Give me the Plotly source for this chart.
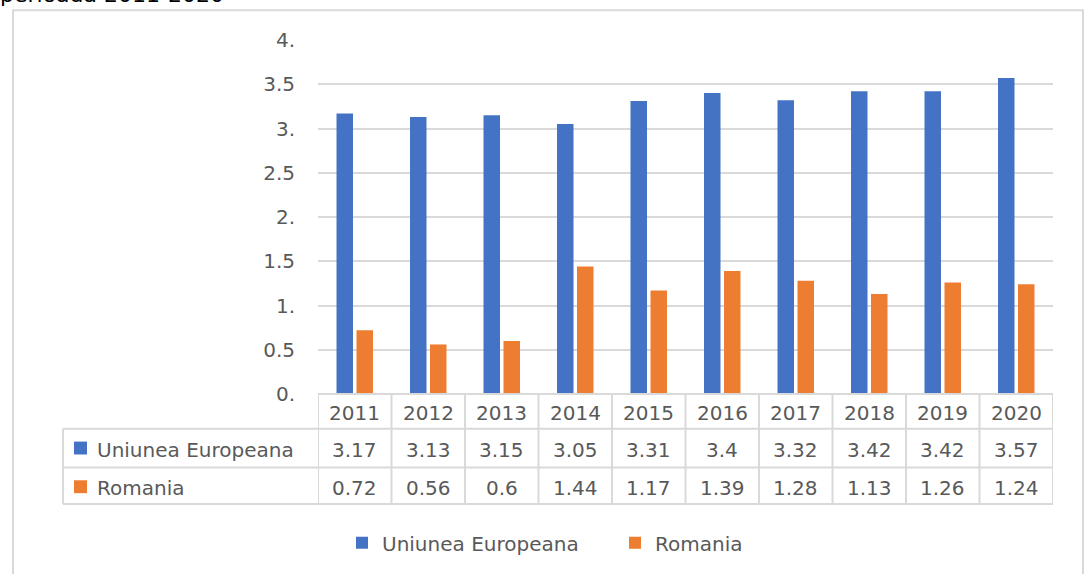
import plotly.graph_objects as go

years = ["2011", "2012", "2013", "2014", "2015", "2016", "2017", "2018", "2019", "2020"]
eu_values = [3.17, 3.13, 3.15, 3.05, 3.31, 3.4, 3.32, 3.42, 3.42, 3.57]
ro_values = [0.72, 0.56, 0.6, 1.44, 1.17, 1.39, 1.28, 1.13, 1.26, 1.24]
series_names = ["Uniunea Europeana", "Romania"]
series_colors = ["#4472C4", "#ED7D31"]
y_tickvals = [0, 0.5, 1, 1.5, 2, 2.5, 3, 3.5, 4]
y_ticktext = ["0.", "0.5", "1.", "1.5", "2.", "2.5", "3.", "3.5", "4."]
title_text = "perioada 2011-2020"

W, H = 1090, 574
L, R, T, B = 318, 1053, 40, 397
PW, PH = R - L, B - T
FONT = "DejaVu Sans"
GRAY = "#595959"
LINE = "#d9d9d9"


def px(x):
    return (x - L) / PW


def py(y):
    return (B - y) / PH


fig = go.Figure()
for name, vals, col in zip(series_names, [eu_values, ro_values], series_colors):
    fig.add_trace(go.Bar(x=years, y=vals, name=name, marker=dict(color=col, line=dict(width=0))))

shapes = []
annotations = []

# chart border
shapes.append(dict(type="rect", xref="paper", yref="paper", x0=px(13), x1=px(1083), y0=py(10), y1=py(590),
                   line=dict(color=LINE, width=2), fillcolor="rgba(0,0,0,0)", layer="below"))

# data table lines
row_lines = [432, 471, 508]
shapes.append(dict(type="line", xref="paper", yref="paper", x0=0, x1=1, y0=py(397), y1=py(397),
                   line=dict(color=LINE, width=2)))
for ry in row_lines:
    shapes.append(dict(type="line", xref="paper", yref="paper", x0=px(63), x1=1, y0=py(ry), y1=py(ry),
                       line=dict(color=LINE, width=2)))
for k in range(len(years) + 1):
    shapes.append(dict(type="line", xref="x", yref="paper", x0=k - 0.5, x1=k - 0.5, y0=py(397), y1=py(508),
                       line=dict(color=LINE, width=2)))
shapes.append(dict(type="line", xref="paper", yref="paper", x0=px(63), x1=px(63), y0=py(432), y1=py(508),
                   line=dict(color=LINE, width=2)))

# header row
for i, yr in enumerate(years):
    annotations.append(dict(x=i, y=py(416), xref="x", yref="paper", text=yr, showarrow=False,
                            font=dict(family=FONT, size=20, color=GRAY), xanchor="center", yanchor="middle"))
# value rows
row_centers = [453, 492]
for vals, name, col, rc in zip([eu_values, ro_values], series_names, series_colors, row_centers):
    for i, v in enumerate(vals):
        annotations.append(dict(x=i, y=py(rc), xref="x", yref="paper", text=str(v), showarrow=False,
                                font=dict(family=FONT, size=20, color=GRAY), xanchor="center", yanchor="middle"))
    shapes.append(dict(type="rect", xref="paper", yref="paper", x0=px(74), x1=px(87),
                       y0=py(rc - 1.5 - 6.5), y1=py(rc - 1.5 + 6.5), line=dict(width=0), fillcolor=col))
    annotations.append(dict(x=px(95), y=py(rc), xref="paper", yref="paper", text=name, showarrow=False,
                            font=dict(family=FONT, size=20, color=GRAY), xanchor="left", yanchor="middle"))

# cut-off title at top
annotations.append(dict(x=px(-2), y=py(9), xref="paper", yref="paper", text=title_text, showarrow=False,
                        font=dict(family=FONT, size=22, color="#000000"), xanchor="left", yanchor="bottom"))

fig.update_layout(
    width=W, height=H,
    margin=dict(l=L, r=W - R, t=T, b=H - B, pad=0),
    paper_bgcolor="white", plot_bgcolor="white",
    barmode="group", bargap=0.456, bargroupgap=0.175,
    font=dict(family=FONT, size=20, color=GRAY),
    xaxis=dict(type="category", range=[-0.5, len(years) - 0.5], showticklabels=False, showgrid=False,
               zeroline=False, showline=False, ticks=""),
    yaxis=dict(range=[0, 4], tickvals=y_tickvals, ticktext=y_ticktext, showgrid=True, gridcolor=LINE,
               gridwidth=2, zeroline=False, showline=False, ticks="", ticklabelstandoff=22,
               tickfont=dict(family=FONT, size=20, color=GRAY)),
    showlegend=True,
    legend=dict(orientation="h", x=px(342), xanchor="left", y=py(547), yanchor="middle",
                font=dict(family=FONT, size=20, color=GRAY), entrywidth=228, entrywidthmode="pixels",
                bgcolor="rgba(0,0,0,0)", itemclick=False),
    shapes=shapes,
    annotations=annotations,
)

fig.write_html("out.html", config={"displayModeBar": False},
               post_script="document.body.style.margin='0';document.body.style.overflow='hidden';")
